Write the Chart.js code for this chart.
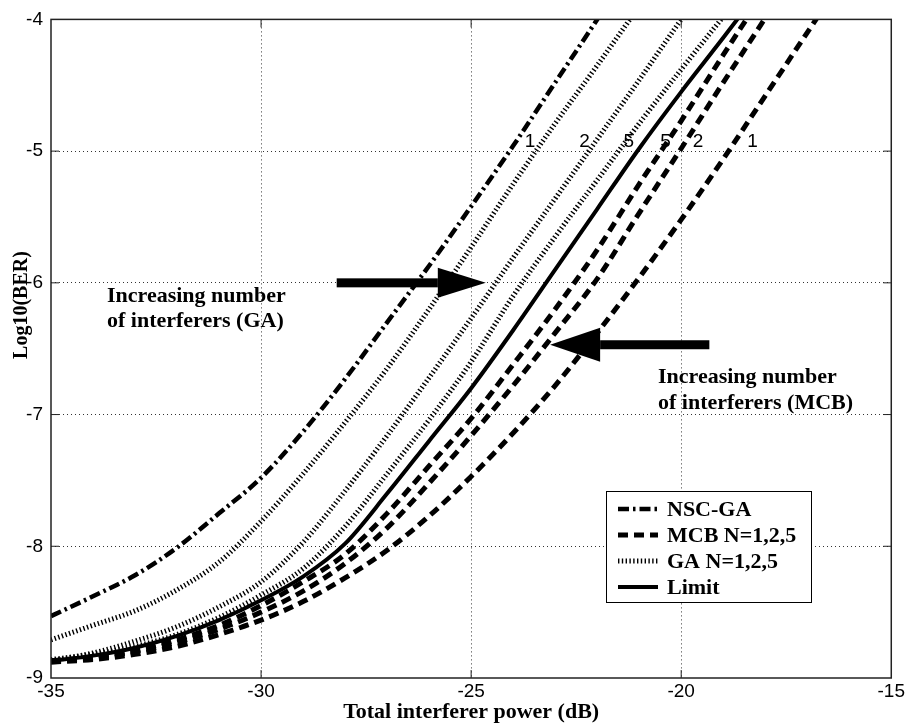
<!DOCTYPE html>
<html>
<head>
<meta charset="utf-8">
<script src="https://cdn.jsdelivr.net/npm/chart.js@4.4.1/dist/chart.umd.min.js"></script>
<style>
  body { margin: 0; background: #fff; }
</style>
</head>
<body>
<canvas id="ber-chart" width="907" height="726"></canvas>
<script>
// total interferer power (dB), one point per dB
const interfererPower = [-35, -34, -33, -32, -31, -30, -29, -28, -27, -26, -25, -24, -23, -22, -21, -20, -19, -18, -17, -16];

// log10(BER), aligned with interfererPower from -35 dB
const nscGa = [-8.53, -8.38, -8.22, -8.01, -7.75, -7.48, -7.13, -6.73, -6.30, -5.87, -5.42, -4.96, -4.48, -4.0, -3.5];
const gaN1 = [-8.71, -8.60, -8.49, -8.33, -8.12, -7.81, -7.45, -7.06, -6.65, -6.2, -5.73, -5.25, -4.79, -4.35, -3.9];
const gaN2 = [-8.87, -8.81, -8.72, -8.61, -8.46, -8.27, -7.97, -7.58, -7.16, -6.72, -6.27, -5.81, -5.36, -4.91, -4.46, -4.0, -3.55];
const gaN5 = [-8.86, -8.82, -8.76, -8.67, -8.54, -8.37, -8.17, -7.85, -7.45, -7.04, -6.6, -6.1, -5.65, -5.22, -4.79, -4.38, -3.98, -3.58];
const limit = [-8.87, -8.83, -8.77, -8.68, -8.56, -8.41, -8.23, -7.98, -7.6, -7.2, -6.8, -6.36, -5.9, -5.44, -4.98, -4.55, -4.14, -3.72];
const mcbN5 = [-8.87, -8.84, -8.79, -8.71, -8.6, -8.45, -8.27, -8.06, -7.75, -7.39, -7.03, -6.62, -6.2, -5.75, -5.25, -4.77, -4.27, -3.78];
const mcbN2 = [-8.87, -8.85, -8.8, -8.73, -8.63, -8.5, -8.34, -8.13, -7.86, -7.52, -7.16, -6.78, -6.38, -5.97, -5.47, -4.98, -4.48, -3.99, -3.5];
const mcbN1 = [-8.88, -8.86, -8.82, -8.76, -8.67, -8.56, -8.42, -8.24, -8.03, -7.77, -7.47, -7.14, -6.78, -6.38, -5.96, -5.52, -5.06, -4.58, -4.1, -3.62];

const xTicks = [-35, -30, -25, -20, -15];
const yTicks = [-9, -8, -7, -6, -5, -4];

// N labels written near the -5 line
const curveLabels = ["1", "2", "5", "5", "2", "1"];
const curveLabelX = [-23.6, -22.3, -21.25, -20.37, -19.6, -18.3];

const legendLabels = ["NSC-GA", "MCB N=1,2,5", "GA N=1,2,5", "Limit"];

const SERIF = "'Liberation Serif', 'Times New Roman', serif";
const SANS = "'Liberation Sans', Arial, sans-serif";

function toPoints(values) {
  return values.map((v, i) => ({ x: interfererPower[i], y: v }));
}

const dashDot = [11, 4, 2.5, 4];
const dashed = [10, 6];
const dotted = [1.4, 2.4];

function series(values, dash, width) {
  return {
    data: toPoints(values),
    borderColor: "#000",
    borderWidth: width,
    borderDash: dash,
    borderCapStyle: "butt",
    pointRadius: 0,
    cubicInterpolationMode: "monotone",
    fill: false,
  };
}

const datasets = [
  series(nscGa, dashDot, 4.5),
  series(mcbN1, dashed, 5),
  series(mcbN2, dashed, 5),
  series(mcbN5, dashed, 5),
  series(gaN1, dotted, 5),
  series(gaN2, dotted, 5),
  series(gaN5, dotted, 5),
  series(limit, [], 4),
];
// which dataset each legend row shows
const legendSeries = [0, 1, 4, 7];

function drawArrow(ctx, x0, y0, x1, y1, shaft, headLen, headW) {
  const dir = Math.sign(x1 - x0);
  const base = x1 - dir * headLen;
  ctx.fillStyle = "#000";
  ctx.fillRect(Math.min(x0, base), y0 - shaft / 2, Math.abs(base - x0), shaft);
  ctx.beginPath();
  ctx.moveTo(x1, y1);
  ctx.lineTo(base, y1 - headW / 2);
  ctx.lineTo(base, y1 + headW / 2);
  ctx.closePath();
  ctx.fill();
}

const berAnnotations = {
  id: "berAnnotations",
  afterDatasetsDraw(chart) {
    const { ctx, chartArea: a, scales } = chart;
    const sx = (v) => scales.x.getPixelForValue(v);
    const sy = (v) => scales.y.getPixelForValue(v);
    ctx.save();
    ctx.setLineDash([]);

    // box round the axes, with small inward ticks
    ctx.strokeStyle = "#222";
    ctx.lineWidth = 1.5;
    ctx.strokeRect(a.left, a.top, a.right - a.left, a.bottom - a.top);
    ctx.lineWidth = 1;
    ctx.beginPath();
    xTicks.slice(1, -1).forEach((t) => {
      ctx.moveTo(sx(t), a.bottom); ctx.lineTo(sx(t), a.bottom - 8);
      ctx.moveTo(sx(t), a.top); ctx.lineTo(sx(t), a.top + 8);
    });
    yTicks.slice(1, -1).forEach((t) => {
      ctx.moveTo(a.left, sy(t)); ctx.lineTo(a.left + 8, sy(t));
      ctx.moveTo(a.right, sy(t)); ctx.lineTo(a.right - 8, sy(t));
    });
    ctx.stroke();

    // arrows
    drawArrow(ctx, sx(-28.2), sy(-6.0), sx(-24.65), sy(-6.0), 9, 48, 30);
    drawArrow(ctx, sx(-19.33), sy(-6.47), sx(-23.12), sy(-6.47), 9, 50, 34);

    // annotation text
    ctx.fillStyle = "#000";
    ctx.textBaseline = "middle";
    ctx.textAlign = "left";
    ctx.font = "bold 22px " + SERIF;
    ctx.fillText("Increasing number", 107, 296);
    ctx.fillText("of interferers (GA)", 107, 321);
    ctx.fillText("Increasing number", 658, 377);
    ctx.fillText("of interferers (MCB)", 658, 403);

    // N labels
    ctx.font = "19px " + SANS;
    ctx.textAlign = "center";
    curveLabels.forEach((t, i) => ctx.fillText(t, sx(curveLabelX[i]), sy(-4.93)));

    // legend
    const lx = 606, ly = 491, lw = 205, lh = 111;
    ctx.fillStyle = "#fff";
    ctx.fillRect(lx, ly, lw, lh);
    ctx.strokeStyle = "#000";
    ctx.lineWidth = 1;
    ctx.strokeRect(lx + 0.5, ly + 0.5, lw, lh);
    ctx.font = "bold 22px " + SERIF;
    ctx.textAlign = "left";
    legendLabels.forEach((label, i) => {
      const ds = datasets[legendSeries[i]];
      const rowY = ly + 18 + i * 26;
      ctx.strokeStyle = "#000";
      ctx.lineWidth = ds.borderWidth;
      ctx.lineCap = "butt";
      ctx.setLineDash(ds.borderDash);
      ctx.beginPath();
      ctx.moveTo(lx + 12, rowY);
      ctx.lineTo(lx + 52, rowY);
      ctx.stroke();
      ctx.setLineDash([]);
      ctx.fillStyle = "#000";
      ctx.fillText(label, lx + 61, rowY + 1);
    });

    // y axis title
    ctx.save();
    ctx.translate(22, 305);
    ctx.rotate(-Math.PI / 2);
    ctx.textAlign = "center";
    ctx.font = "bold 20px " + SERIF;
    ctx.fillText("Log10(BER)", 0, 0);
    ctx.restore();

    ctx.restore();
  },
};

const gridColor = (c) =>
  c.tick && (c.tick.value === c.scale.min || c.tick.value === c.scale.max) ? "rgba(0,0,0,0)" : "#333";

new Chart(document.getElementById("ber-chart"), {
  type: "line",
  data: { datasets: datasets },
  options: {
    responsive: false,
    animation: false,
    devicePixelRatio: 1,
    layout: { padding: { top: 15, right: 11, left: 0, bottom: 0 } },
    plugins: { legend: { display: false }, tooltip: { enabled: false } },
    scales: {
      x: {
        type: "linear",
        min: -35,
        max: -15,
        afterFit: (s) => { s.height = 48; },
        afterBuildTicks: (s) => { s.ticks = xTicks.map((v) => ({ value: v })); },
        ticks: { color: "#000", font: { size: 19, family: SANS }, padding: 2, maxRotation: 0, autoSkip: false },
        grid: { color: gridColor, lineWidth: 1, drawTicks: false },
        border: { display: false, dash: [1, 3] },
        title: {
          display: true,
          text: "Total interferer power (dB)",
          color: "#000",
          font: { size: 22, weight: "bold", family: SERIF },
          padding: { top: 0, bottom: 0 },
        },
      },
      y: {
        type: "linear",
        min: -9,
        max: -4,
        afterFit: (s) => { s.width = 51; },
        afterBuildTicks: (s) => { s.ticks = yTicks.map((v) => ({ value: v })); },
        ticks: { color: "#000", font: { size: 19, family: SANS }, padding: 8 },
        grid: { color: gridColor, lineWidth: 1, drawTicks: false },
        border: { display: false, dash: [1, 3] },
      },
    },
  },
  plugins: [berAnnotations],
});
</script>
</body>
</html>
